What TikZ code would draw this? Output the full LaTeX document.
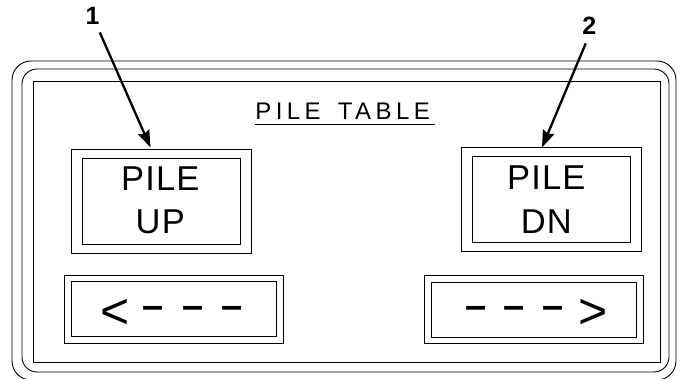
\documentclass[tikz,border=0pt]{standalone}
\usepackage{fontspec}
\setmainfont{Liberation Sans}
\newfontfamily\keyfont[LetterSpace=3.5]{Liberation Sans}
\newfontfamily\titlefont[LetterSpace=18.5]{Liberation Sans}
\usetikzlibrary{arrows.meta}
\begin{document}
\begin{tikzpicture}
[x=1pt, y=-1pt,
  lineDecorate/.style={draw, line width=0.9pt},
  outerDecorate/.style={lineDecorate, inner sep=0pt, minimum width=180pt, minimum height=104pt},
  innerDecorate/.style={lineDecorate, inner sep=0pt, minimum width=158pt, minimum height=86pt},
  barOuterDecorate/.style={lineDecorate, inner sep=0pt, minimum width=218.5pt, minimum height=68pt},
  barInnerDecorate/.style={lineDecorate, inner sep=0pt, minimum width=205pt, minimum height=55pt},
  keyTextDecorate/.style={inner sep=0pt, align=center, font=\keyfont\fontsize{34.5}{43.3}\selectfont},
  barTextDecorate/.style={anchor=base west, inner sep=0pt},
  numberDecorate/.style={inner sep=0pt, font=\bfseries\fontsize{25}{25}\selectfont},
  calloutDecorate/.style={line width=2.3pt, -{Stealth[length=17pt,width=12pt,inset=2pt]}}]
\newcommand\arrowhead[1]{{\fontsize{50}{50}\selectfont\raisebox{-10.2pt}{#1}}}
\newcommand\arrowdash{{\bfseries\fontsize{38}{38}\selectfont\textendash}}
\useasboundingbox (0,0) rectangle (681,379);
%% panel frame
\draw[lineDecorate, rounded corners=19pt] (12,61) rectangle (676,380);
\draw[lineDecorate, rounded corners=15pt] (22,69) rectangle (669,372);
\draw[lineDecorate] (33,81) rectangle (660,362);
%% title
\node (tableTitle) at (255.2,111) [anchor=west, inner sep=0pt, font=\titlefont\fontsize{24}{24}\selectfont] {PILE\hspace{6pt} TABLE};
\draw[line width=0.9pt] ([yshift=-5pt]tableTitle.south west) -- ([xshift=4.5pt,yshift=-5pt]tableTitle.south east);
%% keys
\foreach \nodename/\x/\y in {keyUp/161/201, keyDn/551/199}
{
  \node (\nodename Outer) at (\x,\y) [outerDecorate] {};
  \node (\nodename Inner) at (\x,\y) [innerDecorate] {};
}
\foreach \nodename/\x/\y in {barLeft/174/309, barRight/534/309.5}
{
  \node (\nodename Outer) at (\x,\y) [barOuterDecorate] {};
  \node (\nodename Inner) at (\x,\y) [barInnerDecorate] {};
}
\node (keyUpText) at (160.3,200) [keyTextDecorate] {PILE\\UP};
\node (keyDnText) at (546.3,199.5) [keyTextDecorate] {PILE\\DN};
\node (barLeftText) at (99.9,318.6) [barTextDecorate]
  {\arrowhead{<}\hspace{13.7pt}\arrowdash\hspace{17.9pt}\arrowdash\hspace{17.9pt}\arrowdash};
\node (barRightText) at (465,318.6) [barTextDecorate]
  {\arrowdash\hspace{17.55pt}\arrowdash\hspace{17.55pt}\arrowdash\hspace{15.2pt}\arrowhead{>}};
%% callouts
\node (numOne) at (92.7,16.3) [numberDecorate] {1};
\node (numTwo) at (589.2,26.2) [numberDecorate] {2};
\coordinate (tipOne) at (150.5,147.5);
\coordinate (tipTwo) at (542,147.5);
\draw[calloutDecorate, shorten <=8pt] (numOne) -- (tipOne);
\draw[calloutDecorate, shorten <=9pt] (numTwo.south) -- (tipTwo);
\end{tikzpicture}
\end{document}
